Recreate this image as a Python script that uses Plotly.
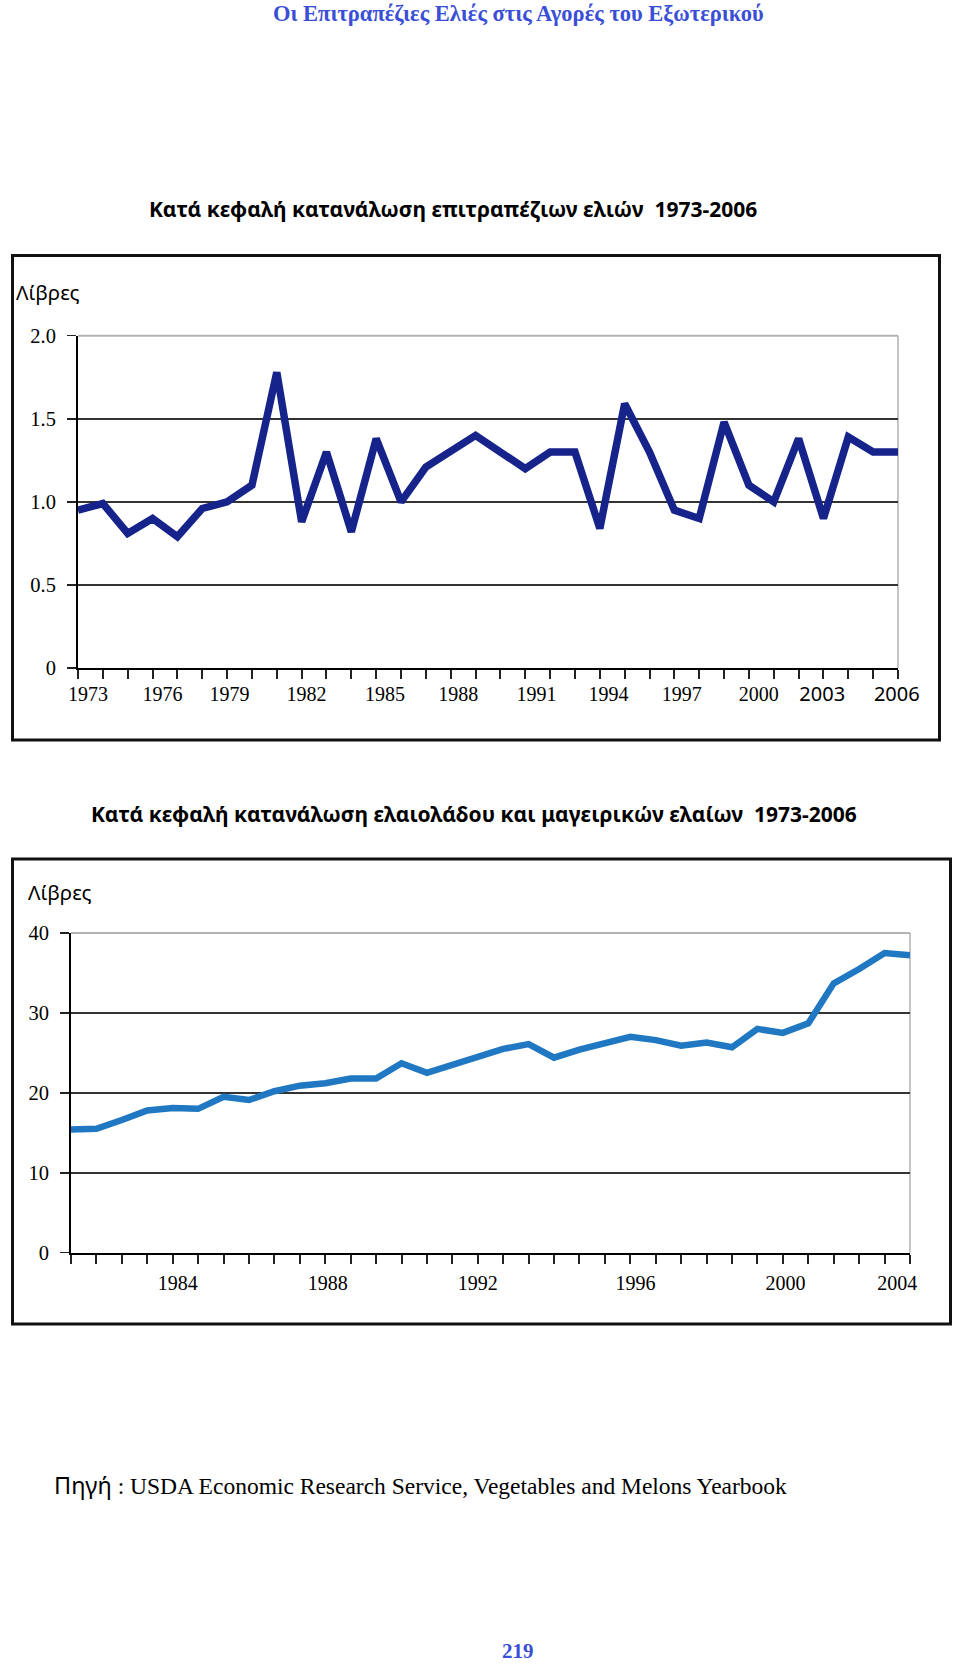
import plotly.graph_objects as go

W, H = 960, 1667

# ---------------- data ----------------
years = list(range(1973, 2007))

# Chart 1: per-capita table olive consumption (pounds)
table_olives = [0.95, 0.99, 0.81, 0.90, 0.79, 0.96, 1.00, 1.10, 1.78, 0.88,
                1.30, 0.82, 1.38, 1.00, 1.21, 1.30, 1.40, 1.30, 1.20, 1.30,
                1.30, 0.84, 1.59, 1.30, 0.95, 0.90, 1.48, 1.10, 1.00, 1.38,
                0.90, 1.39, 1.30, 1.30]
c1_tick_labels = ["1973", "1976", "1979", "1982", "1985", "1988", "1991",
                  "1994", "1997", "2000", "2003", "2006"]
c1_tick_pos = [1973.4, 1976.4, 1979.1, 1982.2, 1985.35, 1988.3, 1991.45,
               1994.35, 1997.3, 2000.4, 2002.95, 2005.95]
c1_y_ticks = [0, 0.5, 1.0, 1.5, 2.0]
c1_y_labels = ["0", "0.5", "1.0", "1.5", "2.0"]

# Chart 2: per-capita olive oil & cooking oils consumption (pounds)
cooking_oils = [15.4, 15.5, 16.6, 17.8, 18.1, 18.0, 19.5, 19.1, 20.2, 20.9,
                21.2, 21.8, 21.8, 23.7, 22.5, 23.5, 24.5, 25.5, 26.1, 24.4,
                25.4, 26.3, 27.0, 26.6, 25.9, 26.3, 25.7, 28.0, 27.5, 28.7,
                33.7, 35.5, 37.5, 37.2]
c2_tick_labels = ["1984", "1988", "1992", "1996", "2000", "2004"]
c2_tick_pos = [1977.2, 1983.1, 1989.0, 1995.2, 2001.1, 2005.5]
c2_y_ticks = [0, 10, 20, 30, 40]

# ---------------- helpers ----------------
def px(x):
    return x / W

def py(y):
    return 1 - y / H

SERIF = "Liberation Serif, Times New Roman, serif"
SANS = "Noto Sans, Open Sans, sans-serif"

fig = go.Figure()

fig.add_trace(go.Scatter(x=years, y=table_olives, mode="lines",
                         line=dict(color="#16238a", width=7.5),
                         xaxis="x", yaxis="y", showlegend=False,
                         hoverinfo="x+y"))
fig.add_trace(go.Scatter(x=years, y=cooking_oils, mode="lines",
                         line=dict(color="#1f78c1", width=6.5),
                         xaxis="x2", yaxis="y2", showlegend=False,
                         hoverinfo="x+y"))

c1_ticktext = []
for lab in c1_tick_labels:
    if lab in ("2003", "2006"):
        c1_ticktext.append('<span style="font-family:Noto Sans">%s</span>' % lab)
    else:
        c1_ticktext.append(lab)

def xaxis_common(domain, tickvals, ticktext, anchor, standoff):
    return dict(domain=domain, range=[1973, 2006], anchor=anchor,
                automargin=False,
                showgrid=False, zeroline=False, showline=True,
                linecolor="black", linewidth=2,
                tickmode="array", tickvals=tickvals, ticktext=ticktext,
                ticks="", ticklabelstandoff=standoff,
                tickfont=dict(family=SERIF, size=20, color="black"),
                minor=dict(tick0=1973, dtick=1, ticks="outside", ticklen=9,
                           tickwidth=2, tickcolor="#222", showgrid=False),
                fixedrange=True)

def yaxis_common(domain, rng, tickvals, ticktext, anchor):
    return dict(domain=domain, range=rng, anchor=anchor,
                automargin=False,
                showgrid=True, gridcolor="#333", gridwidth=1.5,
                zeroline=False, showline=True, linecolor="black", linewidth=2,
                tickmode="array", tickvals=tickvals, ticktext=ticktext,
                ticks="outside", ticklen=9, tickwidth=1.5, tickcolor="#222",
                ticklabelstandoff=7,
                tickfont=dict(family=SERIF, size=20.5, color="black"),
                fixedrange=True)

fig.update_layout(
    width=W, height=H, autosize=False,
    margin=dict(l=0, r=0, t=0, b=0, pad=0),
    paper_bgcolor="white", plot_bgcolor="white",
    showlegend=False,
    xaxis=xaxis_common([px(78), px(898)], c1_tick_pos, c1_ticktext, "y", 7),
    yaxis=yaxis_common([py(668), py(335.7)], [0, 2], c1_y_ticks, c1_y_labels, "x"),
    xaxis2=xaxis_common([px(71), px(910)], c2_tick_pos, c2_tick_labels, "y2", 11),
    yaxis2=yaxis_common([py(1252.7), py(933)], [0, 40], c2_y_ticks,
                        [str(v) for v in c2_y_ticks], "x2"),
)

shapes = []
# outer frames
shapes.append(dict(type="rect", xref="paper", yref="paper",
                   x0=px(12.5), x1=px(939.5), y0=py(740), y1=py(255.5),
                   line=dict(color="#111", width=3), layer="above"))
shapes.append(dict(type="rect", xref="paper", yref="paper",
                   x0=px(12.5), x1=px(950.5), y0=py(1324), y1=py(859),
                   line=dict(color="#111", width=3), layer="above"))
# light gray top gridline and right border of each plot area
for xr, yr in (("x domain", "y domain"), ("x2 domain", "y2 domain")):
    shapes.append(dict(type="line", xref=xr, yref=yr, x0=0, x1=1, y0=1, y1=1,
                       line=dict(color="#b3b3b3", width=2), layer="above"))
    shapes.append(dict(type="line", xref=xr, yref=yr, x0=1, x1=1, y0=0, y1=1,
                       line=dict(color="#b3b3b3", width=1.5), layer="below"))
fig.update_layout(shapes=shapes)

ann = []
ann.append(dict(text="<b>Οι Επιτραπέζιες Ελιές στις Αγορές του Εξωτερικού</b>",
                x=px(518), y=py(14), xref="paper", yref="paper",
                xanchor="center", yanchor="middle", showarrow=False,
                font=dict(family=SERIF, size=22.5, color="#3a4fd6")))
ann.append(dict(text="<b>Κατά κεφαλή κατανάλωση επιτραπέζιων ελιών  1973-2006</b>",
                x=px(453), y=py(209), xref="paper", yref="paper",
                xanchor="center", yanchor="middle", showarrow=False,
                font=dict(family=SANS, size=21, color="black")))
ann.append(dict(text="Λίβρες", x=px(13.5), y=py(292), xref="paper", yref="paper",
                xanchor="left", yanchor="middle", showarrow=False,
                font=dict(family=SANS, size=20.5, color="black")))
ann.append(dict(text="<b>Κατά κεφαλή κατανάλωση ελαιολάδου και μαγειρικών ελαίων  1973-2006</b>",
                x=px(474), y=py(814), xref="paper", yref="paper",
                xanchor="center", yanchor="middle", showarrow=False,
                font=dict(family=SANS, size=21, color="black")))
ann.append(dict(text="Λίβρες", x=px(26), y=py(892), xref="paper", yref="paper",
                xanchor="left", yanchor="middle", showarrow=False,
                font=dict(family=SANS, size=20.5, color="black")))
ann.append(dict(text='<span style="font-family:Noto Sans">Πηγή</span> : USDA Economic Research Service, Vegetables and Melons Yearbook',
                x=px(52), y=py(1485), xref="paper", yref="paper",
                xanchor="left", yanchor="middle", showarrow=False,
                font=dict(family=SERIF, size=23.5, color="black")))
ann.append(dict(text="<b>219</b>", x=px(518), y=py(1651), xref="paper", yref="paper",
                xanchor="center", yanchor="middle", showarrow=False,
                font=dict(family=SERIF, size=21, color="#3a4fd6")))
fig.update_layout(annotations=ann)

fig.write_html("out.html", config=dict(displayModeBar=False, staticPlot=True),
               post_script="document.body.style.margin='0';document.body.style.overflow='hidden';")
